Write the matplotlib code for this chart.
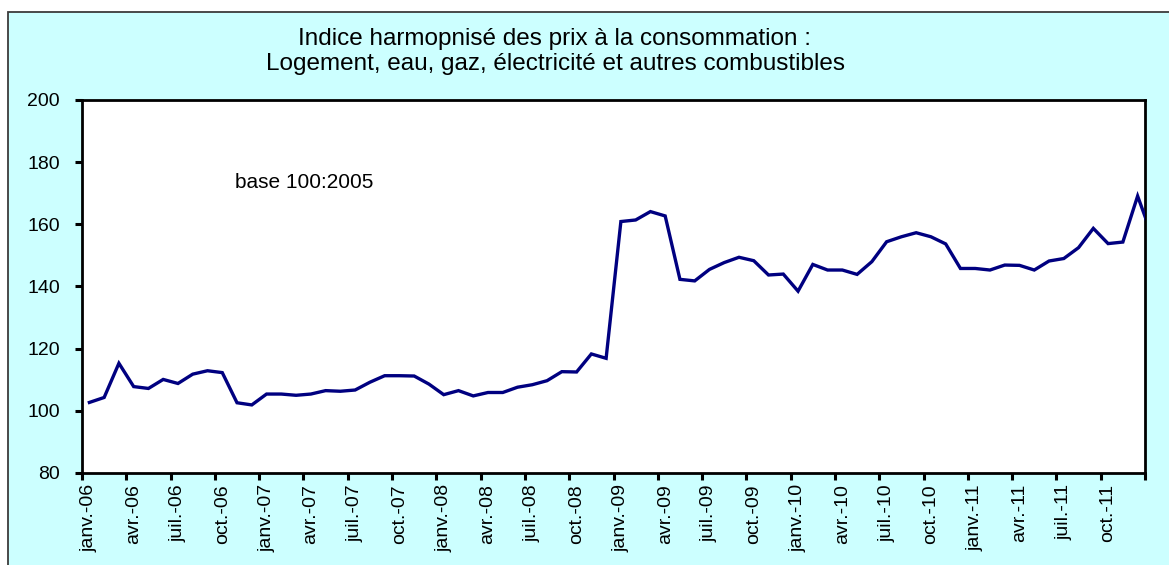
import matplotlib.pyplot as plt
from matplotlib.patches import Rectangle

plt.rcParams['font.family'] = ['Liberation Sans', 'DejaVu Sans']

# indice mensuel, janv.-06 a janv.-12 (base 100 : 2005)
indice = [
    102.7, 104.3, 115.3, 107.8, 107.2, 110.1, 108.8, 111.8, 112.9, 112.3, 102.6, 101.9,
    105.4, 105.4, 105.0, 105.4, 106.5, 106.3, 106.7, 109.2, 111.3, 111.3, 111.2, 108.6,
    105.2, 106.5, 104.8, 105.9, 105.9, 107.6, 108.4, 109.7, 112.6, 112.5, 118.3, 116.9,
    160.9, 161.4, 164.1, 162.7, 142.3, 141.8, 145.5, 147.7, 149.4, 148.3, 143.7, 144.0,
    138.5, 147.1, 145.3, 145.3, 143.9, 148.0, 154.4, 156.0, 157.3, 156.0, 153.7, 145.8,
    145.8, 145.3, 146.9, 146.8, 145.3, 148.2, 149.0, 152.5, 158.7, 153.8, 154.3, 169.1,
    156.0,
]
nb_mois = 72  # janv.-06 .. déc.-11 visibles sur l'axe

etiquettes = [
    'janv.-06', 'avr.-06', 'juil.-06', 'oct.-06',
    'janv.-07', 'avr.-07', 'juil.-07', 'oct.-07',
    'janv.-08', 'avr.-08', 'juil.-08', 'oct.-08',
    'janv.-09', 'avr.-09', 'juil.-09', 'oct.-09',
    'janv.-10', 'avr.-10', 'juil.-10', 'oct.-10',
    'janv.-11', 'avr.-11', 'juil.-11', 'oct.-11',
]

W, H = 1169, 565
fig = plt.figure(figsize=(W / 100, H / 100), dpi=100, facecolor='white')

# zone du graphique (cyan clair, bord gris fonce)
fig.patches.append(Rectangle((8 / W, -0.05), 1.1, 1.05 - 12.5 / H,
                             transform=fig.transFigure, facecolor='#CCFFFF',
                             edgecolor='#3c3c3c', linewidth=1.3, zorder=-10))

ax = fig.add_axes([82 / W, 1 - 473 / H, (1145 - 82) / W, (473 - 100) / H])
ax.set_facecolor('white')

ax.plot(range(len(indice)), indice, color='#000080', linewidth=2.4,
        solid_joinstyle='miter', zorder=3)

ax.set_xlim(-0.5, nb_mois - 0.5)
ax.set_ylim(80, 200)
ax.set_yticks(range(80, 201, 20))

# graduations entre les categories, etiquettes au centre
ax.set_xticks([i - 0.5 for i in range(0, nb_mois + 1, 3)])
ax.set_xticklabels([])
ax.set_xticks(range(0, nb_mois, 3), minor=True)
ax.set_xticklabels(etiquettes, minor=True, rotation=90, fontsize=14)
ax.tick_params(axis='x', which='major', direction='out', length=5, width=2.2)
ax.tick_params(axis='x', which='minor', length=0, pad=8)
ax.tick_params(axis='y', direction='out', length=5, width=2.2, pad=11, labelsize=14)

for s in ax.spines.values():
    s.set_linewidth(2)
    s.set_color('black')

ax.text(0.209, 0.78, 'base 100:2005', transform=ax.transAxes,
        ha='center', va='center', fontsize=15)

fig.text(555 / W, 1 - 45.5 / H, 'Indice harmopnisé des prix à la consommation :',
         ha='center', va='baseline', fontsize=17.5)
fig.text(555 / W, 1 - 70 / H, 'Logement, eau, gaz, électricité et autres combustibles',
         ha='center', va='baseline', fontsize=17.5)

fig.savefig('out.png', dpi=100, facecolor=fig.get_facecolor())
